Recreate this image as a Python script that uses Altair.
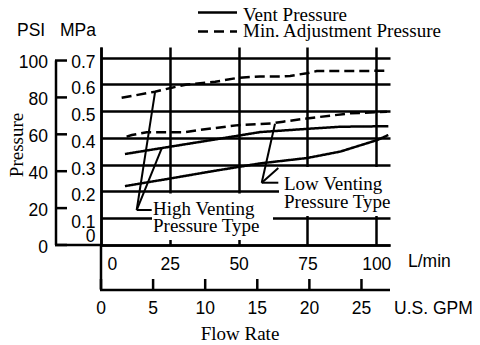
import altair as alt
import pandas as pd

# ---- curve data (flow in L/min, pressure in MPa) ----
high_min_flow = [7.5, 19.6, 25.7, 31.2, 41.5, 49.9, 57.8, 66.2, 68.7, 74.8, 78.4, 104.4]
high_min_mpa = [0.550, 0.573, 0.588, 0.600, 0.610, 0.625, 0.630, 0.630, 0.632, 0.642, 0.650, 0.651]

low_min_flow = [9.3, 11.2, 16.6, 29.9, 36.0, 49.9, 62.5, 66.2, 74.8, 90.5, 103.9]
low_min_mpa = [0.405, 0.411, 0.421, 0.421, 0.430, 0.448, 0.455, 0.461, 0.473, 0.492, 0.498]

high_vent_flow = [8.7, 25.5, 40.0, 57.8, 74.8, 86.9, 104.4]
high_vent_mpa = [0.340, 0.368, 0.392, 0.422, 0.434, 0.442, 0.444]

low_vent_flow = [8.7, 25.4, 40.0, 57.8, 74.8, 86.9, 100.3, 104.4]
low_vent_mpa = [0.220, 0.249, 0.275, 0.305, 0.325, 0.349, 0.392, 0.411]

series_names = ["Vent Pressure", "Min. Adjustment Pressure"]
label_high = ["High Venting", "Pressure Type"]
label_low = ["Low Venting", "Pressure Type"]

lpm_ticks = [0, 25, 50, 75, 100]
mpa_ticks = [0.0, 0.1, 0.2, 0.3, 0.4, 0.5, 0.6, 0.7]
psi_ticks = [0, 20, 40, 60, 80, 100]
gpm_ticks = [0, 5, 10, 15, 20, 25]

# leader lines (flow, MPa) from label corner to curves
lead_from_flow = [12.97, 12.97, 12.97, 58.39, 58.39, 58.39]
lead_from_mpa = [0.1308, 0.1308, 0.1308, 0.2328, 0.2328, 0.2328]
lead_to_flow = [19.62, 22.05, 18.42, 63.22, 64.42, 64.42]
lead_to_mpa = [0.5707, 0.3614, 0.1308, 0.4530, 0.2878, 0.2328]

PSI_TO_MPA = 0.00689476
GPM_TO_LPM = 3.78541

W, H = 289, 198
SERIF = "Liberation Serif"
SANS = "Liberation Sans"

rows = []
for cid, kind, fl, mp in [
    ("hmin", series_names[1], high_min_flow, high_min_mpa),
    ("lmin", series_names[1], low_min_flow, low_min_mpa),
    ("hvent", series_names[0], high_vent_flow, high_vent_mpa),
    ("lvent", series_names[0], low_vent_flow, low_vent_mpa),
]:
    for f, m in zip(fl, mp):
        rows.append({"curve": cid, "kind": kind, "flow": f, "mpa": m})
curve_df = pd.DataFrame(rows)

x_scale = alt.Scale(domain=[0, 105], nice=False, zero=False)
y_scale = alt.Scale(domain=[0, 0.74], nice=False, zero=False)


def X(field):
    return alt.X(field, type="quantitative", scale=x_scale, title=None)


def Y(field):
    return alt.Y(field, type="quantitative", scale=y_scale, title=None)


curves = alt.Chart(curve_df).mark_line(color="black", strokeWidth=2.5).encode(
    x=alt.X("flow:Q", scale=x_scale, title=None,
            axis=alt.Axis(values=lpm_ticks, grid=True, gridColor="black", gridWidth=2.5,
                          gridOpacity=1, domainColor="black", domainWidth=2.5, ticks=False,
                          labelPadding=10, labelFont=SANS, labelFontSize=17.5,
                          labelColor="black", labelFlush=True, labelFlushOffset=-6,
                          labelOverlap=False, labelAngle=0, zindex=0, format="d")),
    y=alt.Y("mpa:Q", scale=y_scale, title=None,
            axis=alt.Axis(values=mpa_ticks, tickCount=8, grid=True, gridColor="black",
                          gridWidth=2.5, gridOpacity=1, domainColor="black", domainWidth=2.5,
                          ticks=False, labelPadding=6, labelFont=SANS, labelFontSize=17.5,
                          labelColor="black", labelOffset=4.5, labelFlush=True,
                          labelFlushOffset=-4.5, labelOverlap=False, zindex=0,
                          format=".1~f")),
    strokeDash=alt.StrokeDash("kind:N", scale=alt.Scale(domain=series_names,
                                                        range=[[1, 0], [10, 5]]), legend=None),
    detail="curve:N",
)

one = pd.DataFrame({"k": [0]})

box_high = alt.Chart(one).mark_rect(fill="white").encode(
    x=alt.value(51), x2=alt.value(172), y=alt.value(146.5), y2=alt.value(193))
box_low = alt.Chart(one).mark_rect(fill="white").encode(
    x=alt.value(178), x2=alt.value(293), y=alt.value(120), y2=alt.value(169))


def txt(s, x, y, font, size, align="left", angle=0, baseline="middle"):
    return alt.Chart(pd.DataFrame({"t": [s]})).mark_text(
        font=font, fontSize=size, align=align, baseline=baseline, angle=angle, color="black"
    ).encode(text="t:N", x=alt.value(x), y=alt.value(y))


texts = [
    txt(label_high[0], 52, 162, SERIF, 19),
    txt(label_high[1], 52, 179, SERIF, 19),
    txt(label_low[0], 183, 137, SERIF, 19),
    txt(label_low[1], 183, 155, SERIF, 19),
    txt(series_names[0], 142, -26, SERIF, 19, baseline="alphabetic"),
    txt(series_names[1], 142, -10, SERIF, 19, baseline="alphabetic"),
    txt("PSI", -84, -16, SANS, 17.5),
    txt("MPa", -41, -16, SANS, 17.5),
    txt("Pressure", -78, 98, SERIF, 19, align="center", angle=270, baseline="alphabetic"),
    txt("Flow Rate", 139, 293, SERIF, 19, align="center", baseline="alphabetic"),
    txt("L/min", 307, 215, SANS, 17.5),
    txt("U.S. GPM", 293, 262, SANS, 17.5),
]

lead_df = pd.DataFrame({"flow": lead_from_flow, "mpa": lead_from_mpa,
                        "flow2": lead_to_flow, "mpa2": lead_to_mpa})
leaders = alt.Chart(lead_df).mark_rule(color="black", strokeWidth=2).encode(
    x=X("flow"), y=Y("mpa"), x2="flow2:Q", y2="mpa2:Q")

# legend lines
leg_solid = alt.Chart(one).mark_rule(color="black", strokeWidth=2.5).encode(
    x=alt.value(97), x2=alt.value(136), y=alt.value(-34.5))
leg_dash = alt.Chart(one).mark_rule(color="black", strokeWidth=2.5, strokeDash=[10, 6]).encode(
    x=alt.value(97), x2=alt.value(136), y=alt.value(-15.5))

# PSI axis (drawn on the MPa scale)
psi_df = pd.DataFrame({"psi": psi_ticks})
psi_line = alt.Chart(pd.DataFrame({"p0": [psi_ticks[0]], "p1": [psi_ticks[-1]]})).transform_calculate(
    mpa=f"datum.p0 * {PSI_TO_MPA}", mpa2=f"datum.p1 * {PSI_TO_MPA}"
).mark_rule(color="black", strokeWidth=2.5).encode(x=alt.value(-45), y=Y("mpa"), y2="mpa2:Q")
psi_tick = alt.Chart(psi_df).transform_calculate(mpa=f"datum.psi * {PSI_TO_MPA}").mark_rule(
    color="black", strokeWidth=2.5).encode(x=alt.value(-46), x2=alt.value(-34), y=Y("mpa"))
psi_lab = alt.Chart(psi_df).transform_calculate(mpa=f"datum.psi * {PSI_TO_MPA}").mark_text(
    font=SANS, fontSize=17.5, align="right", baseline="middle", dy=2.5, color="black"
).encode(x=alt.value(-53), y=Y("mpa"), text="psi:Q")

# extensions of the frame
base_ext = alt.Chart(one).mark_rule(color="black", strokeWidth=2.5).encode(
    x=alt.value(-46), x2=alt.value(0), y=alt.value(H))
vert_ext = alt.Chart(one).mark_rule(color="black", strokeWidth=2.5).encode(
    x=alt.value(0), y=alt.value(H), y2=alt.value(H + 44))

# GPM axis
gpm_df = pd.DataFrame({"gpm": gpm_ticks})
gpm_line = alt.Chart(one).mark_rule(color="black", strokeWidth=2.5).encode(
    x=alt.value(-1), x2=alt.value(W), y=alt.value(H + 45))
gpm_tick = alt.Chart(gpm_df).transform_calculate(flow=f"datum.gpm * {GPM_TO_LPM}").mark_rule(
    color="black", strokeWidth=2.5).encode(x=X("flow"), y=alt.value(H + 34), y2=alt.value(H + 45))
gpm_lab = alt.Chart(gpm_df).transform_calculate(flow=f"datum.gpm * {GPM_TO_LPM}").mark_text(
    font=SANS, fontSize=17.5, align="center", baseline="middle", color="black"
).encode(x=X("flow"), y=alt.value(H + 64), text="gpm:Q")

chart = alt.layer(
    curves, box_high, box_low, *texts, leaders, leg_solid, leg_dash,
    psi_line, psi_tick, psi_lab, base_ext, vert_ext, gpm_line, gpm_tick, gpm_lab,
).properties(
    width=W, height=H,
    padding={"left": 93, "top": 39, "right": 82, "bottom": 100},
    autosize=alt.AutoSizeParams(type="none"),
).configure_view(strokeWidth=0)

chart.save("out.html", embed_options={"renderer": "svg", "actions": False})
